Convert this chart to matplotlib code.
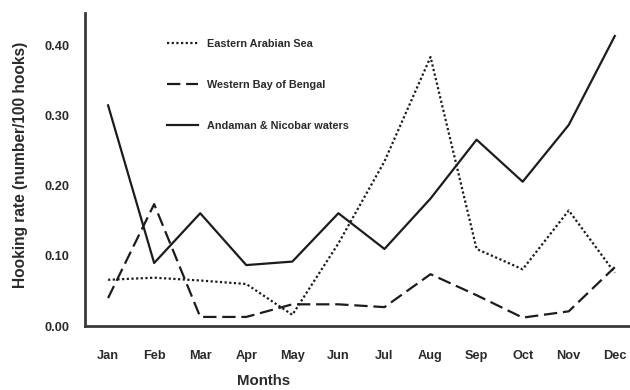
import matplotlib
matplotlib.use("Agg")
import matplotlib.pyplot as plt

months = ["Jan", "Feb", "Mar", "Apr", "May", "Jun",
          "Jul", "Aug", "Sep", "Oct", "Nov", "Dec"]

eastern_arabian_sea = [0.066, 0.069, 0.065, 0.060, 0.016, 0.118,
                       0.235, 0.384, 0.110, 0.081, 0.165, 0.076]
western_bay_of_bengal = [0.040, 0.174, 0.013, 0.013, 0.031, 0.031,
                         0.027, 0.074, 0.044, 0.012, 0.021, 0.084]
andaman_nicobar = [0.315, 0.090, 0.161, 0.087, 0.092, 0.161,
                   0.110, 0.182, 0.266, 0.206, 0.287, 0.414]

series_labels = ["Eastern Arabian Sea", "Western Bay of Bengal",
                 "Andaman & Nicobar waters"]
y_ticks = [0.00, 0.10, 0.20, 0.30, 0.40]

plt.rcParams["font.family"] = ["Liberation Sans", "DejaVu Sans"]
plt.rcParams["font.weight"] = "bold"

fig = plt.figure(figsize=(6.3, 3.9), dpi=100)
ax = fig.add_axes([0.135, 0.164, 0.865, 0.803])

line_color = "#1c1c1c"
text_color = "#2a2a2a"
x = list(range(len(months)))
ax.plot(x, eastern_arabian_sea, color=line_color, lw=1.6,
        linestyle=(0, (1, 1.1)), label=series_labels[0])
ax.plot(x, western_bay_of_bengal, color=line_color, lw=1.6,
        linestyle=(0, (6, 2.6)), label=series_labels[1])
ax.plot(x, andaman_nicobar, color=line_color, lw=1.6,
        linestyle="-", label=series_labels[2])

ax.set_xlim(-0.5, 11.33)
ax.set_ylim(0, 0.447)
ax.set_xticks(x)
ax.set_xticklabels(months)
ax.set_yticks(y_ticks)
ax.set_yticklabels([f"{v:.2f}" for v in y_ticks])
ax.tick_params(axis="both", length=0, labelsize=9.2, colors=text_color)
ax.tick_params(axis="x", pad=17)
ax.tick_params(axis="y", pad=11)

for side in ("top", "right"):
    ax.spines[side].set_visible(False)
for side in ("left", "bottom"):
    ax.spines[side].set_color("#3a3a3a")
    ax.spines[side].set_linewidth(2.0)

ax.set_xlabel("Months", fontsize=10.8, fontweight="bold", color=text_color)
ax.xaxis.set_label_coords(0.328, -0.176)
ax.xaxis.label.set_verticalalignment("center")
ax.set_ylabel("Hooking rate (number/100 hooks)", fontsize=11.2, fontweight="bold",
              color=text_color)
ax.yaxis.set_label_coords(-0.119, 0.514)
ax.yaxis.label.set_verticalalignment("center")

leg = ax.legend(loc="upper left", bbox_to_anchor=(0.15, 0.916), frameon=False,
                fontsize=7.8, handlelength=2.9, handletextpad=0.85,
                labelspacing=2.85, borderpad=0, borderaxespad=0)
for t in leg.get_texts():
    t.set_color(text_color)
    t.set_fontweight("bold")

fig.savefig("out.png", dpi=100)
